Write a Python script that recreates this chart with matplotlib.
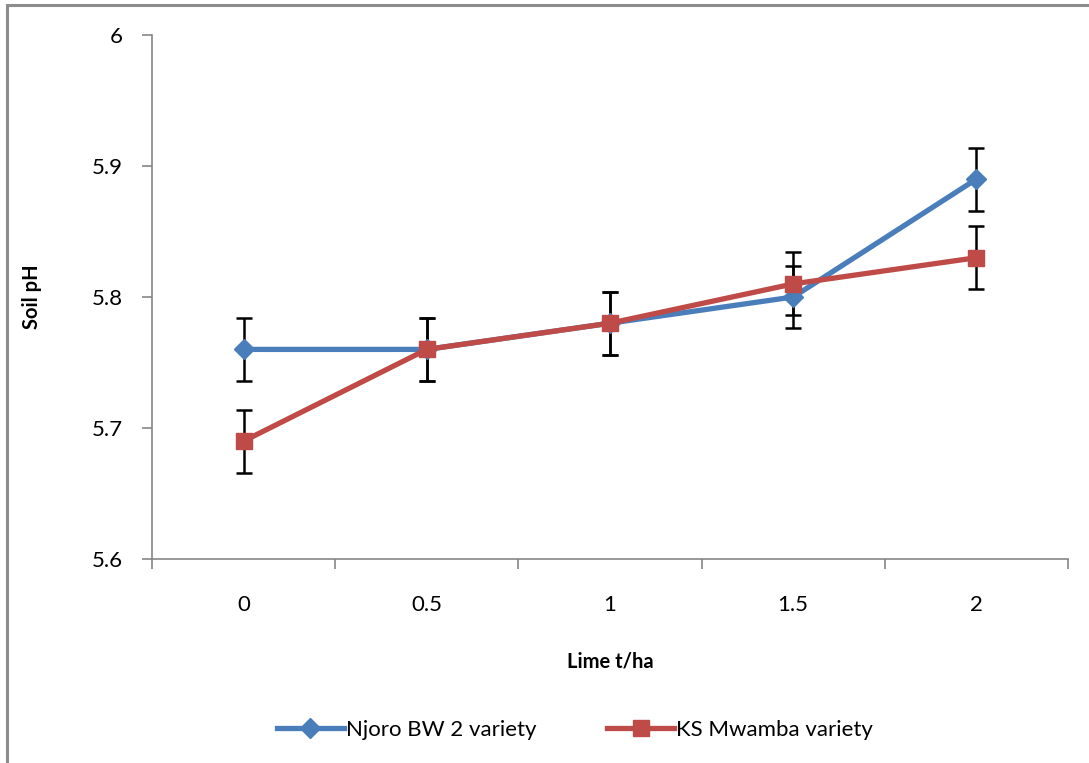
import matplotlib
import numpy as np
from matplotlib import pyplot as plt
from matplotlib.patches import Rectangle

matplotlib.use('Agg')

lime = ['0', '0.5', '1', '1.5', '2']
njoro = [5.76, 5.76, 5.78, 5.80, 5.89]
mwamba = [5.69, 5.76, 5.78, 5.81, 5.83]
njoro_err = [0.024, 0.024, 0.024, 0.024, 0.024]
mwamba_err = [0.024, 0.024, 0.024, 0.024, 0.024]

plt.rcParams['font.family'] = ['Lato', 'DejaVu Sans']

fig = plt.figure(figsize=(10.89, 7.63), dpi=100)
# outer chart frame (cut off on right/bottom like the original)
fig.patches.append(Rectangle((7 / 1089, -0.1), 1.2, 1 - 5 / 763 + 0.1,
                             transform=fig.transFigure, fill=False,
                             edgecolor='#8c8c8c', linewidth=2.2))
ax = fig.add_axes([152 / 1089, 1 - 559 / 763, (1068 - 152) / 1089, (559 - 35) / 763])

x = np.arange(len(lime))
ax.errorbar(x, njoro, yerr=njoro_err, fmt='none', ecolor='black',
            elinewidth=1.8, capsize=6, capthick=1.8, zorder=2)
ax.errorbar(x, mwamba, yerr=mwamba_err, fmt='none', ecolor='black',
            elinewidth=1.8, capsize=6, capthick=1.8, zorder=2)
ax.plot(x, njoro, color='#4a7ebb', marker='D', markersize=10, linewidth=3.8,
        label='Njoro BW 2 variety', zorder=3)
ax.plot(x, mwamba, color='#be4b48', marker='s', markersize=12, linewidth=3.8,
        label='KS Mwamba variety', zorder=4)

ax.set_xlim(-0.5, len(lime) - 0.5)
ax.set_ylim(5.6, 6.0)
ax.set_yticks([5.6, 5.7, 5.8, 5.9, 6.0])
ax.set_yticklabels(['5.6', '5.7', '5.8', '5.9', '6'])
ax.set_xticks(np.arange(-0.5, len(lime), 1.0))
ax.set_xticklabels([])
ax.set_xticks(x, minor=True)
ax.set_xticklabels(lime, minor=True)
ax.tick_params(axis='x', which='major', direction='out', length=7, color='#868686', width=1.2)
ax.tick_params(axis='x', which='minor', length=0, labelsize=16, pad=26)
ax.tick_params(axis='y', direction='out', length=7, color='#868686', width=1.2,
               labelsize=16, pad=14)
for s in ['top', 'right']:
    ax.spines[s].set_visible(False)
for s in ['left', 'bottom']:
    ax.spines[s].set_color('#868686')
    ax.spines[s].set_linewidth(1.2)

ax.set_xlabel('Lime t/ha', fontsize=14.5, fontweight='bold', labelpad=26)
ax.set_ylabel('Soil pH', fontsize=14.5, fontweight='bold', labelpad=36)

fig.legend(loc='center', bbox_to_anchor=(575 / 1089, 1 - 730 / 763), ncol=2,
           frameon=False, fontsize=16, handlelength=3.0, columnspacing=3.2,
           handletextpad=0.1)

plt.savefig('out.png')
plt.close()
